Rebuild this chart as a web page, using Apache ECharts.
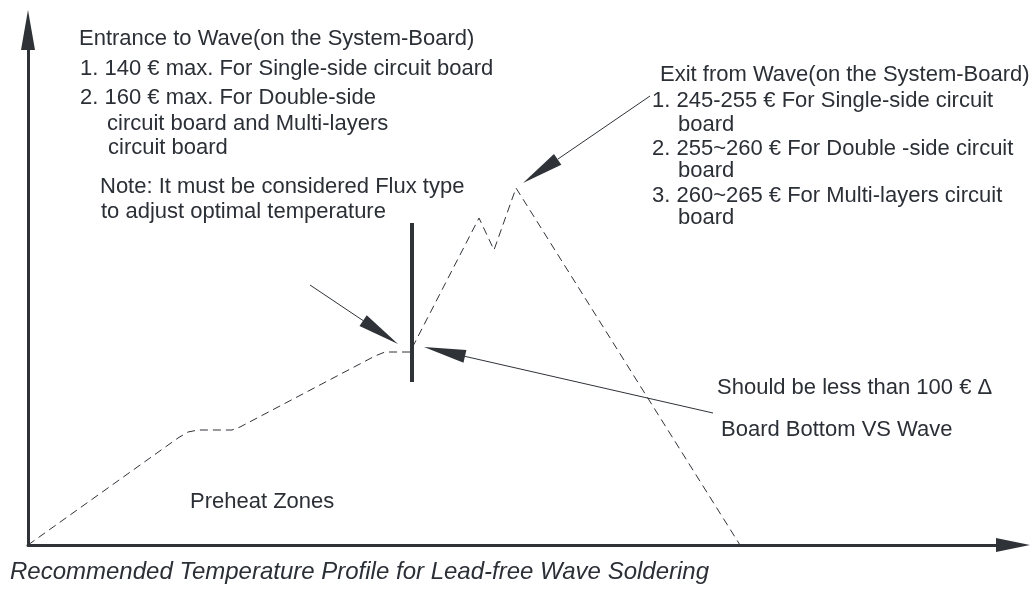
<!DOCTYPE html>
<html>
<head>
<meta charset="utf-8">
<script src="https://cdn.jsdelivr.net/npm/echarts@6/dist/echarts.min.js"></script>
<style>
  html, body { margin: 0; padding: 0; background: #fff; }
  #main { width: 1035px; height: 599px; }
</style>
</head>
<body>
<div id="main"></div>
<script>
// 温度曲线（虚线）—— 横轴为时间（任意单位），纵轴为温度（任意单位）
var profileX = [0, 150, 160, 170, 204, 212, 347, 357, 382, 451, 466, 488, 712];
var profileY = [0, 107, 113, 115, 115, 118, 189, 193, 193, 327, 295, 357, 0];

// 箭头：[尾x, 尾y, 头x, 头y]
var arrowTailX = [282, 685, 622];
var arrowTailY = [260, 132, 449];
var arrowTipX = [370, 396, 495];
var arrowTipY = [201, 198, 362];

// 竖直粗线（进入波峰位置）
var barX = [384, 384];
var barY = [163, 322];

var textColor = '#2b2f36';
var lineColor = '#2f3338';
var fontFamily = '"Liberation Sans", Arial, sans-serif';

var chart = echarts.init(document.getElementById('main'));

var profileData = profileX.map(function(x, i) { return [x, profileY[i]]; });
var arrowData = arrowTailX.map(function(x, i) {
  return [x, arrowTailY[i], arrowTipX[i], arrowTipY[i]];
});
var barData = barX.map(function(x, i) { return [x, barY[i]]; });

// 文本：x 为左端，y 为字形中线
function txt(x, y, s, font) {
  return {
    type: 'text',
    x: x,
    y: y,
    silent: true,
    style: {
      text: s,
      fill: textColor,
      font: font || ('22px ' + fontFamily),
      align: 'left',
      verticalAlign: 'middle'
    }
  };
}

var option = {
  backgroundColor: '#fff',
  animation: false,
  grid: { left: 28, top: 30, width: 985, height: 515 },
  xAxis: {
    type: 'value',
    min: 0,
    max: 985,
    axisLine: {
      show: true,
      symbol: ['none', 'triangle'],
      symbolSize: [14, 34],
      lineStyle: { color: lineColor, width: 3 }
    },
    axisTick: { show: false },
    axisLabel: { show: false },
    splitLine: { show: false }
  },
  yAxis: {
    type: 'value',
    min: 0,
    max: 515,
    axisLine: {
      show: true,
      symbol: ['none', 'triangle'],
      symbolSize: [14, 40],
      lineStyle: { color: lineColor, width: 3 }
    },
    axisTick: { show: false },
    axisLabel: { show: false },
    splitLine: { show: false }
  },
  graphic: [
    txt(79, 39, 'Entrance to Wave(on the System-Board)'),
    txt(80, 69, '1. 140 € max. For Single-side circuit board'),
    txt(80, 98, '2. 160 € max. For Double-side'),
    txt(107, 124, 'circuit board and Multi-layers'),
    txt(108, 148, 'circuit board'),
    txt(100, 187, 'Note: It must be considered Flux type'),
    txt(101, 212, 'to adjust optimal temperature'),
    txt(660, 75, 'Exit from Wave(on the System-Board)'),
    txt(652, 101, '1. 245-255 € For Single-side circuit'),
    txt(678, 125, 'board'),
    txt(652, 149, '2. 255~260 € For Double -side circuit'),
    txt(678, 171, 'board'),
    txt(652, 196, '3. 260~265 € For Multi-layers circuit'),
    txt(678, 218, 'board'),
    txt(717, 388, 'Should be less than 100 € Δ'),
    txt(721, 430, 'Board Bottom VS Wave'),
    txt(190, 502, 'Preheat Zones'),
    txt(10, 572, 'Recommended Temperature Profile for Lead-free Wave Soldering',
      'italic 24px ' + fontFamily)
  ],
  series: [
    {
      name: 'profile',
      type: 'line',
      data: profileData,
      symbol: 'none',
      lineStyle: { color: lineColor, width: 1, type: [8, 5] },
      z: 3
    },
    {
      name: 'bar',
      type: 'line',
      data: barData,
      symbol: 'none',
      lineStyle: { color: lineColor, width: 4 },
      z: 4
    },
    {
      name: 'arrows',
      type: 'custom',
      data: arrowData,
      z: 5,
      renderItem: function(params, api) {
        var tail = api.coord([api.value(0), api.value(1)]);
        var tip = api.coord([api.value(2), api.value(3)]);
        var dx = tip[0] - tail[0], dy = tip[1] - tail[1];
        var len = Math.sqrt(dx * dx + dy * dy);
        var ux = dx / len, uy = dy / len;
        var headLen = 42, halfW = 6.5;
        var bx = tip[0] - ux * headLen, by = tip[1] - uy * headLen;
        var px = -uy * halfW, py = ux * halfW;
        return {
          type: 'group',
          children: [
            {
              type: 'line',
              shape: { x1: tail[0], y1: tail[1], x2: bx, y2: by },
              style: { stroke: lineColor, lineWidth: 1 }
            },
            {
              type: 'polygon',
              shape: { points: [[tip[0], tip[1]], [bx + px, by + py], [bx - px, by - py]] },
              style: { fill: lineColor }
            }
          ]
        };
      }
    }
  ]
};

chart.setOption(option);
window.onresize = function() { chart.resize(); };
</script>
</body>
</html>
